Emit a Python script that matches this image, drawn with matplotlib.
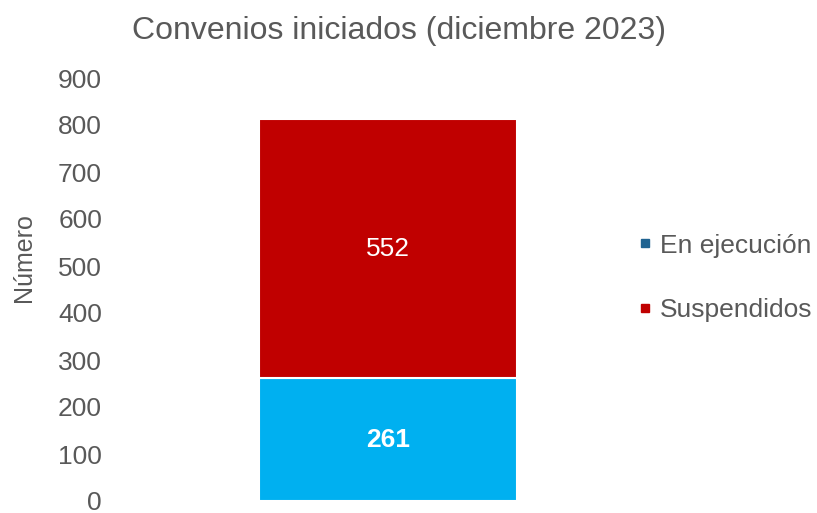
import matplotlib.pyplot as plt
from matplotlib.lines import Line2D

plt.rcParams["font.family"] = ["Liberation Sans", "DejaVu Sans"]

categories = ["Convenios iniciados"]
en_ejecucion = [261]
suspendidos = [552]
series_names = ["En ejecución", "Suspendidos"]
yticks = list(range(0, 901, 100))

GRAY = "#595959"
BLUE = "#00B0F0"
RED = "#C00000"
LEGEND_BLUE = "#1F6391"

fig = plt.figure(figsize=(8.17, 5.13), dpi=100)
ax = fig.add_axes([125 / 817, 12 / 513, 526 / 817, 423 / 513])

x = range(len(categories))
b1 = ax.bar(x, en_ejecucion, width=0.49, color=BLUE, edgecolor="white", linewidth=1.5)
b2 = ax.bar(x, suspendidos, bottom=en_ejecucion, width=0.49, color=RED,
            edgecolor="white", linewidth=1.5)

# value labels inside the segments
for rect, v in zip(b1, en_ejecucion):
    ax.text(rect.get_x() + rect.get_width() / 2, rect.get_y() + rect.get_height() / 2,
            str(v), ha="center", va="center", color="white", fontsize=19, fontweight="bold")
for rect, v in zip(b2, suspendidos):
    ax.text(rect.get_x() + rect.get_width() / 2, rect.get_y() + rect.get_height() / 2,
            str(v), ha="center", va="center", color="white", fontsize=19)

ax.set_xlim(-0.5, 0.5)
ax.set_ylim(0, 900)
ax.set_yticks(yticks)
ax.set_xticks([])
ax.tick_params(axis="y", length=0, labelsize=19, labelcolor=GRAY, pad=16.5)
for s in ax.spines.values():
    s.set_visible(False)

fig.text(24 / 817, 1 - 258 / 513, "Número", rotation=90, ha="center", va="center",
         fontsize=18, color=GRAY)
fig.text(399 / 817, 1 - 31 / 513, "Convenios iniciados (diciembre 2023)",
         ha="center", va="center", fontsize=23, color=GRAY)

handles = [
    Line2D([], [], marker="s", linestyle="none", markersize=6, color=LEGEND_BLUE),
    Line2D([], [], marker="s", linestyle="none", markersize=6, color=RED),
]
fig.legend(handles, series_names, loc="center left", bbox_to_anchor=(615 / 817, 1 - 278 / 513),
           frameon=False, fontsize=19, labelcolor=GRAY, handlelength=0.5,
           handletextpad=0.3, labelspacing=1.55)

fig.savefig("out.png", dpi=100)
